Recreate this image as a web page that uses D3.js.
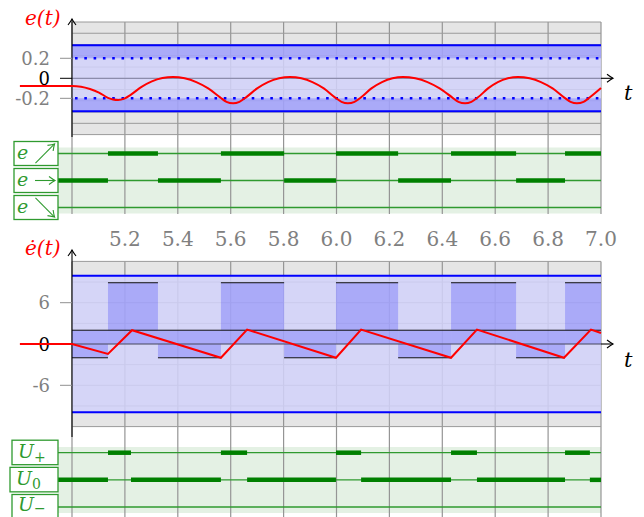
<!DOCTYPE html>
<meta charset="utf-8">
<style>
  body { margin: 0; background: #fff; }
  text { font-family: "DejaVu Serif", serif; }
</style>
<body>
<script src="https://cdn.jsdelivr.net/npm/d3@7/dist/d3.min.js"></script>
<script>
var width = 644, height = 517;

// time ticks
var tickT = [5.2, 5.4, 5.6, 5.8, 6.0, 6.2, 6.4, 6.6, 6.8, 7.0];
var tickLabels = ["5.2", "5.4", "5.6", "5.8", "6.0", "6.2", "6.4", "6.6", "6.8", "7.0"];
var eTicks = [0.2, 0, -0.2];
var eTickLabels = ["0.2", "0", "-0.2"];
var dTicks = [6, 0, -6];
var dTickLabels = ["6", "0", "-6"];

// levels
var eBand = 0.33, eDot = 0.2;
var dBand = 9.9, dHigh = 8.9, dMid = 2;

// e(t)
var eT = [4.803, 5.000, 5.034, 5.068, 5.102, 5.136, 5.155, 5.174, 5.198, 5.223, 5.263, 5.302, 5.342, 5.382,
  5.426, 5.470, 5.515, 5.560, 5.584, 5.609,
  5.633, 5.658, 5.700, 5.741, 5.783, 5.824,
  5.867, 5.909, 5.952, 5.994, 6.019, 6.043,
  6.068, 6.093, 6.132, 6.172, 6.212, 6.251,
  6.298, 6.344, 6.390, 6.437, 6.461, 6.486,
  6.510, 6.535, 6.573, 6.610, 6.648, 6.686,
  6.730, 6.773, 6.817, 6.860, 6.885, 6.909,
  6.934, 6.958, 7.000];
var eV = [-0.077, -0.077, -0.084, -0.107, -0.143, -0.195, -0.212, -0.217, -0.203, -0.163, -0.086, -0.031, 0.002, 0.013,
  0.000, -0.038, -0.101, -0.190, -0.235, -0.250,
  -0.235, -0.190, -0.101, -0.038, 0.000, 0.013,
  0.000, -0.038, -0.101, -0.190, -0.235, -0.250,
  -0.235, -0.190, -0.101, -0.038, 0.000, 0.013,
  0.000, -0.038, -0.101, -0.190, -0.235, -0.250,
  -0.235, -0.190, -0.101, -0.038, 0.000, 0.013,
  0.000, -0.038, -0.101, -0.190, -0.235, -0.250,
  -0.235, -0.190, -0.098];

// de/dt
var dT = [4.803, 5.000, 5.136, 5.227, 5.563, 5.662, 5.998, 6.093, 6.433, 6.531, 6.860, 6.962, 7.000];
var dV = [0, 0, -1.45, 2.0, -2.0, 2.1, -2.0, 2.1, -2.0, 2.1, -2.0, 2.1, 1.6];

// switching segments
var eUp = [[5.136, 5.325], [5.563, 5.802], [5.998, 6.233], [6.433, 6.679], [6.864, 7.0]];
var eFlat = [[4.8, 5.136], [5.325, 5.563], [5.802, 5.998], [6.233, 6.433], [6.679, 6.864]];
var eDown = [];
var uPlus = [[5.136, 5.223], [5.563, 5.662], [5.998, 6.093], [6.433, 6.531], [6.864, 6.958]];
var uZero = [[4.8, 5.136], [5.223, 5.563], [5.662, 5.998], [6.093, 6.433], [6.531, 6.864], [6.958, 7.0]];
var uMinus = [];

var x = d3.scaleLinear().domain([5, 7]).range([72, 601]);
var yTop = d3.scaleLinear().domain([-0.5625, 0.5625]).range([134.6, 22]);
var yBot = d3.scaleLinear().domain([-12, 12]).range([426.6, 261.4]);
var rowTop = d3.scalePoint().domain(["up", "flat", "down"]).range([153.5, 207.5]);
var rowBot = d3.scalePoint().domain(["plus", "zero", "minus"]).range([452.7, 507]);

var green = "#2f9a2f", dark = "#008000";
var svg = d3.select("body").append("svg").attr("width", width).attr("height", height);

function cx(t, lo) { return x(Math.max(lo, Math.min(7, t))); }

// gray backgrounds
[[yTop, 0.5625], [yBot, 12]].forEach(function(p) {
  svg.append("rect").attr("x", x(5)).attr("width", x(7) - x(5))
    .attr("y", p[0](p[1])).attr("height", p[0](-p[1]) - p[0](p[1])).attr("fill", "#e5e5e5");
});
// strip fills
svg.append("rect").attr("x", 58).attr("width", x(7) - 58).attr("y", 147.5).attr("height", 66).attr("fill", "#e4f1e4");
svg.append("rect").attr("x", 58).attr("width", x(7) - 58).attr("y", 447).attr("height", 66).attr("fill", "#e4f1e4");

// grid
var gridT = [5.0].concat(tickT);
svg.selectAll(".vg1").data(gridT).join("line")
  .attr("x1", x).attr("x2", x).attr("y1", 22).attr("y2", 214).attr("stroke", "#959595").attr("stroke-width", 1.2);
svg.selectAll(".vg2").data(gridT).join("line")
  .attr("x1", x).attr("x2", x).attr("y1", 261.4).attr("y2", 517).attr("stroke", "#959595").attr("stroke-width", 1.2);
svg.selectAll(".hg1").data(d3.range(-5, 6).map(function(k) { return k * 0.1125; })).join("line")
  .attr("x1", x(5)).attr("x2", x(7)).attr("y1", yTop).attr("y2", yTop).attr("stroke", "#9a9a9a");
svg.selectAll(".hg2").data(d3.range(-4, 5).map(function(k) { return k * 3; })).join("line")
  .attr("x1", x(5)).attr("x2", x(7)).attr("y1", yBot).attr("y2", yBot).attr("stroke", "#9a9a9a");

// blue bands
svg.append("rect").attr("x", x(5)).attr("width", x(7) - x(5))
  .attr("y", yTop(eBand)).attr("height", yTop(-eBand) - yTop(eBand)).attr("fill", "#d2d2fa").attr("opacity", 0.85);
svg.append("rect").attr("x", x(5)).attr("width", x(7) - x(5))
  .attr("y", yBot(dBand)).attr("height", yBot(-dBand) - yBot(dBand)).attr("fill", "#d2d2fa").attr("opacity", 0.85);
[[eBand, eDot], [-eDot, -eBand]].forEach(function(b) {
  svg.append("rect").attr("x", x(5)).attr("width", x(7) - x(5))
    .attr("y", yTop(b[0])).attr("height", yTop(b[1]) - yTop(b[0])).attr("fill", "rgba(0,0,255,0.2)");
});
svg.selectAll(".dup").data(eUp).join("rect")
  .attr("x", function(d) { return cx(d[0], 5); }).attr("width", function(d) { return cx(d[1], 5) - cx(d[0], 5); })
  .attr("y", yBot(dHigh)).attr("height", yBot(0) - yBot(dHigh)).attr("fill", "rgba(0,0,255,0.2)");
svg.selectAll(".dfl").data(eFlat).join("rect")
  .attr("x", function(d) { return cx(d[0], 5); }).attr("width", function(d) { return cx(d[1], 5) - cx(d[0], 5); })
  .attr("y", yBot(dMid)).attr("height", yBot(-dMid) - yBot(dMid)).attr("fill", "rgba(0,0,255,0.2)");

// blue lines
[eBand, -eBand].forEach(function(v) {
  svg.append("line").attr("x1", x(5)).attr("x2", x(7)).attr("y1", yTop(v)).attr("y2", yTop(v)).attr("stroke", "blue").attr("stroke-width", 2);
});
[eDot, -eDot].forEach(function(v) {
  svg.append("line").attr("x1", x(5) + 3).attr("x2", x(7)).attr("y1", yTop(v)).attr("y2", yTop(v))
    .attr("stroke", "blue").attr("stroke-width", 2.6).attr("stroke-dasharray", "2.6 6.7");
});
[dBand, -dBand].forEach(function(v) {
  svg.append("line").attr("x1", x(5)).attr("x2", x(7)).attr("y1", yBot(v)).attr("y2", yBot(v)).attr("stroke", "blue").attr("stroke-width", 2);
});

// black level lines in bottom panel
svg.append("line").attr("x1", x(5)).attr("x2", x(7)).attr("y1", yBot(dMid)).attr("y2", yBot(dMid)).attr("stroke", "#111");
svg.selectAll(".lup").data(eUp).join("line")
  .attr("x1", function(d) { return cx(d[0], 5); }).attr("x2", function(d) { return cx(d[1], 5); })
  .attr("y1", yBot(dHigh)).attr("y2", yBot(dHigh)).attr("stroke", "#111");
svg.selectAll(".lfl").data(eFlat).join("line")
  .attr("x1", function(d) { return cx(d[0], 5); }).attr("x2", function(d) { return cx(d[1], 5); })
  .attr("y1", yBot(-dMid)).attr("y2", yBot(-dMid)).attr("stroke", "#111");

// axes
function head(px, py, ang) {
  svg.append("path").attr("d", "M-6,-4 Q-2,-1 0,0 Q-2,1 -6,4")
    .attr("transform", "translate(" + px + "," + py + ") rotate(" + ang + ")")
    .attr("fill", "none").attr("stroke", "#000").attr("stroke-width", 1.1);
}
svg.append("line").attr("x1", x(5)).attr("x2", x(7)).attr("y1", yTop(0)).attr("y2", yTop(0)).attr("stroke", "#8c8cab").attr("stroke-width", 1.2);
svg.append("line").attr("x1", x(7)).attr("x2", 613).attr("y1", yTop(0)).attr("y2", yTop(0)).attr("stroke", "#000").attr("stroke-width", 1.1);
head(613, yTop(0), 0);
svg.append("line").attr("x1", x(5)).attr("x2", x(7)).attr("y1", yBot(0)).attr("y2", yBot(0)).attr("stroke", "#4a4a60").attr("stroke-width", 1.2);
svg.append("line").attr("x1", x(7)).attr("x2", 613).attr("y1", yBot(0)).attr("y2", yBot(0)).attr("stroke", "#000").attr("stroke-width", 1.1);
head(613, yBot(0), 0);
svg.append("line").attr("x1", x(5)).attr("x2", x(5)).attr("y1", 137).attr("y2", 19).attr("stroke", "#000").attr("stroke-width", 1.1);
head(x(5), 19, -90);
svg.append("line").attr("x1", x(5)).attr("x2", x(5)).attr("y1", 437).attr("y2", 250).attr("stroke", "#000").attr("stroke-width", 1.1);
head(x(5), 250, -90);

// y ticks
eTicks.forEach(function(v, i) {
  var c = v === 0 ? "#000" : "#909090";
  svg.append("line").attr("x1", 60).attr("x2", x(5)).attr("y1", yTop(v)).attr("y2", yTop(v)).attr("stroke", c);
  svg.append("text").attr("x", 50).attr("y", yTop(v) + 6.5).attr("text-anchor", "end")
    .attr("font-size", 18).attr("fill", v === 0 ? "#000" : "#808080").text(eTickLabels[i]);
});
dTicks.forEach(function(v, i) {
  var c = v === 0 ? "#000" : "#909090";
  svg.append("line").attr("x1", 60).attr("x2", x(5)).attr("y1", yBot(v)).attr("y2", yBot(v)).attr("stroke", c);
  svg.append("text").attr("x", 50).attr("y", yBot(v) + 6.5).attr("text-anchor", "end")
    .attr("font-size", 18).attr("fill", v === 0 ? "#000" : "#808080").text(dTickLabels[i]);
});
// x tick labels
svg.selectAll(".xt").data(tickT).join("text")
  .attr("x", x).attr("y", 246).attr("text-anchor", "middle")
  .attr("font-size", 20).attr("fill", "#808080")
  .text(function(d, i) { return tickLabels[i]; });

// axis titles
svg.append("text").attr("x", 25).attr("y", 25).attr("font-size", 20).attr("font-style", "italic").attr("fill", "red").text("e(t)");
svg.append("text").attr("x", 25).attr("y", 255).attr("font-size", 20).attr("font-style", "italic").attr("fill", "red").text("ė(t)");
svg.append("text").attr("x", 624).attr("y", 100).attr("font-size", 21).attr("font-style", "italic").attr("fill", "#000").text("t");
svg.append("text").attr("x", 624).attr("y", 367).attr("font-size", 21).attr("font-style", "italic").attr("fill", "#000").text("t");

// red curves
var eLine = d3.line().x(function(d) { return x(d[0]); }).y(function(d) { return yTop(d[1]); }).curve(d3.curveMonotoneX);
svg.append("path").attr("d", eLine(d3.zip(eT, eV))).attr("fill", "none").attr("stroke", "red").attr("stroke-width", 2);
var dLine = d3.line().x(function(d) { return x(d[0]); }).y(function(d) { return yBot(d[1]); });
svg.append("path").attr("d", dLine(d3.zip(dT, dV))).attr("fill", "none").attr("stroke", "red").attr("stroke-width", 2).attr("stroke-linejoin", "miter");

// strips
var tLeft = x.invert(58);
function strip(rows, keys, sets) {
  keys.forEach(function(k, i) {
    var yy = rows(k);
    svg.append("line").attr("x1", 58).attr("x2", x(7)).attr("y1", yy).attr("y2", yy).attr("stroke", green).attr("stroke-width", 1.3);
    svg.selectAll(".s" + k).data(sets[i]).join("line")
      .attr("x1", function(d) { return cx(d[0], tLeft); }).attr("x2", function(d) { return cx(d[1], tLeft); })
      .attr("y1", yy).attr("y2", yy).attr("stroke", dark).attr("stroke-width", 4.5);
  });
}
strip(rowTop, ["up", "flat", "down"], [eUp, eFlat, eDown]);
strip(rowBot, ["plus", "zero", "minus"], [uPlus, uZero, uMinus]);

// label boxes
function gHead(px, py, ang) {
  svg.append("path").attr("d", "M-6,-4 Q-2,-1 0,0 Q-2,1 -6,4")
    .attr("transform", "translate(" + px + "," + py + ") rotate(" + ang + ")")
    .attr("fill", "none").attr("stroke", green).attr("stroke-width", 1.1);
}
[["up", -45], ["flat", 0], ["down", 45]].forEach(function(p) {
  var yy = rowTop(p[0]);
  svg.append("rect").attr("x", 14).attr("y", yy - 12).attr("width", 44).attr("height", 24)
    .attr("fill", "#fff").attr("stroke", green).attr("stroke-width", 1.3);
  svg.append("text").attr("x", 17).attr("y", yy + 5).attr("font-size", 19).attr("font-style", "italic").attr("fill", green).text("e");
  var a = p[1] * Math.PI / 180, L = p[1] === 0 ? 10 : 13.5;
  var x0 = 45 - L * Math.cos(a), y0 = yy - L * Math.sin(a), x1 = 45 + L * Math.cos(a), y1 = yy + L * Math.sin(a);
  svg.append("line").attr("x1", x0).attr("y1", y0).attr("x2", x1).attr("y2", y1).attr("stroke", green).attr("stroke-width", 1.1);
  gHead(x1, y1, p[1]);
});
[["plus", "+", 12], ["zero", "0", 10], ["minus", "−", 12]].forEach(function(p) {
  var yy = rowBot(p[0]);
  svg.append("rect").attr("x", p[2]).attr("y", yy - 12.5).attr("width", 58 - p[2]).attr("height", 24.5)
    .attr("fill", "#fff").attr("stroke", green).attr("stroke-width", 1.3);
  var t = svg.append("text").attr("x", p[2] + 6).attr("y", yy + (p[0] === "minus" ? 3.5 : 5.5)).attr("font-size", 19).attr("fill", green);
  t.append("tspan").attr("font-style", "italic").text("U");
  t.append("tspan").attr("font-size", 14).attr("dy", p[0] === "minus" ? 2 : 4).text(p[1]);
});
</script>
</body>
